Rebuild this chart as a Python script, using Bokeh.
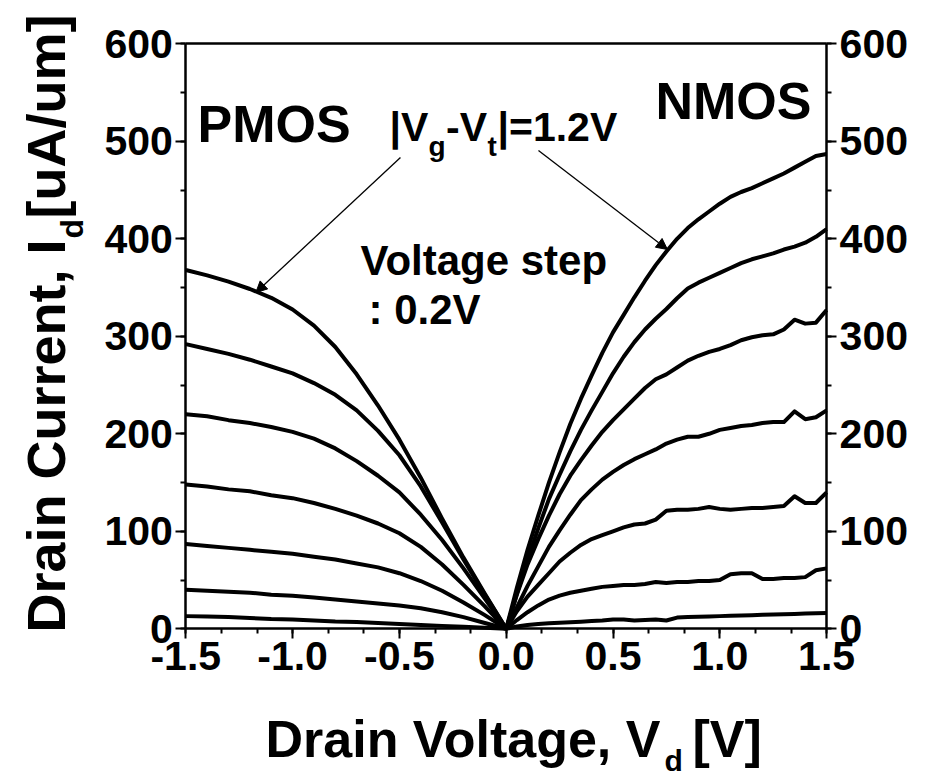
import math
from bokeh.plotting import figure
from bokeh.models import (LinearAxis, SingleIntervalTicker, FixedTicker, PrintfTickFormatter,
                          Label, Arrow, NormalHead, Range1d)
from bokeh.embed import file_html
from bokeh.resources import INLINE

FONT = "Liberation Sans"

# ---------------- data ----------------
# PMOS drain voltage [V] and |Id| [uA/um] for |Vg-Vt| = 1.2 ... 0.0 V (0.2 V step)
vd_p = [-1.5, -1.4, -1.3, -1.2, -1.1, -1.0, -0.9, -0.8, -0.7, -0.6, -0.5, -0.4, -0.3, -0.2, -0.1, 0.0]
pmos_12 = [368, 362.5, 356, 348.5, 339.5, 327.5, 311, 289, 261, 229, 194, 155, 113, 73, 36, 0]
pmos_10 = [292, 287, 282, 276, 269, 262, 252, 240, 224, 203, 178, 146, 109, 71, 35, 0]
pmos_08 = [220, 218, 214, 211, 207, 202, 195, 185, 172, 157, 140, 117, 91, 62, 31, 0]
pmos_06 = [148, 146, 143, 141, 137, 134, 129, 123, 116, 108, 98, 84, 66, 45, 23, 0]
pmos_04 = [87, 85, 83, 81, 79, 77, 74, 71, 67, 63, 57, 49, 39, 27, 14, 0]
pmos_02 = [40, 39, 38, 37, 35, 34, 32, 30, 28, 26, 24, 21, 17, 12, 6, 0]
pmos_00 = [13, 12.5, 12, 11, 10, 9.5, 8.5, 7.5, 7, 6, 5, 4, 3, 2, 1, 0]

# NMOS drain voltage [V] and Id [uA/um]
vd_n = [0.0, 0.05, 0.1, 0.15, 0.2, 0.25, 0.3, 0.35, 0.4, 0.45, 0.5, 0.55, 0.6, 0.65, 0.7, 0.75,
        0.8, 0.85, 0.9, 0.95, 1.0, 1.05, 1.1, 1.15, 1.2, 1.25, 1.3, 1.35, 1.4, 1.45, 1.5]
nmos_12 = [0, 42, 81, 116, 150, 181, 210, 236, 260, 283, 304, 322, 340, 357, 373, 387,
           400, 411, 420, 428, 436, 443, 448, 452, 457, 462, 467, 473, 479, 485, 487]
nmos_10 = [0, 36, 71, 103, 133, 158, 182, 204, 224, 243, 262, 279, 294, 307, 318, 328,
           339, 349, 355, 360, 365, 370, 375, 379, 382, 385, 389, 392, 396, 402, 410]
nmos_08 = [0, 35, 66, 92, 116, 138, 157, 173, 188, 202, 214, 225, 236, 247, 256, 261,
           268, 275, 280, 284, 287, 291, 296, 299, 301, 302, 307, 317, 313, 314, 327]
nmos_06 = [0, 22, 44, 64, 84, 101, 117, 132, 143, 153, 161, 168, 174, 179, 184, 190,
           194, 197, 197, 200, 204, 206, 208, 209, 211, 212, 212, 223, 215, 217, 224]
nmos_04 = [0, 18, 33, 45, 57, 69, 78, 86, 92, 96, 100, 104, 107, 108, 112, 121,
           122, 122, 123, 125, 123, 122, 123, 124, 124, 125, 126, 136, 129, 129, 140]
nmos_02 = [0, 9, 17, 24, 30, 34, 37, 39, 41, 43, 44, 45, 45, 46, 48, 47,
           48, 48, 49, 49, 50, 56, 57, 57, 51, 51, 52, 52, 53, 60, 62]
nmos_00 = [0, 2.4, 4, 5, 5.8, 6.3, 6.8, 7.3, 8, 8.5, 9.5, 9.5, 8.5, 9, 9.5, 8.5,
           11.5, 12, 12.3, 12.6, 13, 13.3, 13.6, 14, 14.3, 14.6, 15, 15.3, 15.6, 16, 16.3]

pmos_series = [pmos_12, pmos_10, pmos_08, pmos_06, pmos_04, pmos_02, pmos_00]
nmos_series = [nmos_12, nmos_10, nmos_08, nmos_06, nmos_04, nmos_02, nmos_00]

x_lo, x_hi = -1.5, 1.5
y_lo, y_hi = 0, 600
x_ticks_interval = 0.5
y_ticks_interval = 100

# ---------------- layout (pixels) ----------------
W, H = 932, 781
AX_L, AX_R, AX_T, AX_B = 185.3, 826.1, 43.3, 628.3   # where the axes sit on the canvas
sx = (x_hi - x_lo) / (AX_R - AX_L)                   # data units per pixel
sy = (y_hi - y_lo) / (AX_B - AX_T)
xr = Range1d(x_lo - AX_L * sx, x_hi + (W - AX_R) * sx)
yr = Range1d(y_lo - (H - AX_B) * sy, y_hi + AX_T * sy)


def X(px):
    return xr.start + px * sx


def Y(py):
    return yr.end - py * sy


p = figure(width=W, height=H, x_range=xr, y_range=yr, title=None,
           output_backend="svg", toolbar_location=None,
           min_border=0, min_border_left=0, min_border_right=0,
           min_border_top=0, min_border_bottom=0)
p.xgrid.visible = False
p.ygrid.visible = False
p.background_fill_color = "white"
p.border_fill_color = "white"
p.outline_line_color = None

for ys in pmos_series:
    p.line(vd_p, ys, line_color="black", line_width=4, line_join="round")
for ys in nmos_series:
    p.line(vd_n, ys, line_color="black", line_width=4, line_join="round")


def style_axis(ax):
    ax.axis_line_width = 2.5
    ax.axis_line_color = "black"
    ax.major_tick_line_width = 2
    ax.minor_tick_line_width = 2
    ax.major_tick_out = 10
    ax.major_tick_in = 0
    ax.minor_tick_out = 5
    ax.minor_tick_in = 0
    ax.major_label_text_font = FONT
    ax.major_label_text_font_style = "bold"
    ax.major_label_text_font_size = "41px"
    ax.major_label_text_color = "black"
    ax.major_label_standoff = 3


xa = p.xaxis[0]
xa.ticker = SingleIntervalTicker(interval=x_ticks_interval, num_minor_ticks=3)
xa.formatter = PrintfTickFormatter(format="%.1f")
xa.fixed_location = y_lo
xa.bounds = (x_lo, x_hi)
style_axis(xa)

ya = p.yaxis[0]
ya.ticker = SingleIntervalTicker(interval=y_ticks_interval, num_minor_ticks=2)
ya.formatter = PrintfTickFormatter(format="%d")
ya.fixed_location = x_lo
ya.bounds = (y_lo, y_hi)
style_axis(ya)

right = LinearAxis(ticker=SingleIntervalTicker(interval=y_ticks_interval, num_minor_ticks=2),
                   formatter=PrintfTickFormatter(format="%d"),
                   fixed_location=x_hi, bounds=(y_lo, y_hi))
style_axis(right)
p.add_layout(right, "right")

top = LinearAxis(ticker=FixedTicker(ticks=[]), fixed_location=y_hi, bounds=(x_lo, x_hi))
style_axis(top)
top.major_label_text_font_size = "0px"
p.add_layout(top, "above")

BASE_SHIFT = 0.38  # Bokeh draws the "alphabetic" baseline ~0.38 em lower than asked


def lab(px, py, text, size, angle=0.0):
    sh = BASE_SHIFT * size
    if angle:
        px -= sh
    else:
        py -= sh
    p.add_layout(Label(x=X(px), y=Y(py), text=text, text_font=FONT, text_font_style="bold",
                       text_font_size=f"{size}px", text_color="black", text_align="left",
                       text_baseline="alphabetic", angle=angle))


# annotations inside the plot (left edge / baseline in canvas pixels)
lab(197, 143, "PMOS", 52)
lab(655, 120, "NMOS", 52)
lab(389, 142, "|V", 41)
lab(428, 157, "g", 28)
lab(445.5, 142, "-V", 41)
lab(487, 157, "t", 28)
lab(497, 142, "|=1.2V", 41)
lab(360, 276, "Voltage step", 42)
lab(368, 325, ": 0.2V", 42)

# axis titles
lab(265, 758, "Drain Voltage, V", 52)
lab(664, 771, "d", 30)
lab(692, 758, "[V]", 52)
lab(66, 632, "Drain Current, I", 54, angle=math.pi / 2)
lab(84, 238, "d", 32, angle=math.pi / 2)
lab(66, 218, "[uA/um]", 54, angle=math.pi / 2)

# arrows pointing to the |Vg-Vt| = 1.2 V curves
for xs, ys, xe, ye in [(-0.495, 483.4, -1.172, 345.0), (0.151, 490.6, 0.755, 389.0)]:
    p.add_layout(Arrow(end=NormalHead(size=11, fill_color="black", line_color="black"),
                       x_start=xs, y_start=ys, x_end=xe, y_end=ye,
                       line_color="black", line_width=1.3))

open("out.html", "w").write(file_html(p, INLINE))
